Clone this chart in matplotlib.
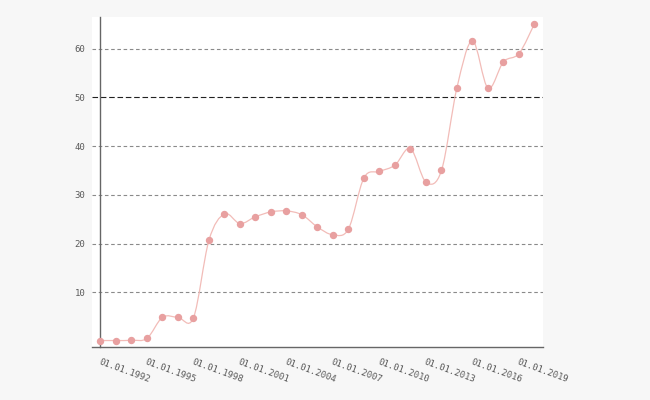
import numpy as np
import pandas as pd
import matplotlib
matplotlib.use("Agg")
import matplotlib.pyplot as plt
import matplotlib.dates as mdates
from matplotlib.path import Path
from matplotlib.patches import PathPatch


years = list(range(1992, 2021))
values = [0.1, 0.1, 0.15, 0.55, 4.86, 4.86, 4.78, 20.7, 26.1, 24.1,
          25.5, 26.5, 26.7, 25.9, 23.4, 21.8, 23.0, 33.5, 34.8, 36.1,
          39.5, 32.6, 35.0, 52.0, 61.6, 51.9, 57.3, 59.0, 65.1]
tick_years = list(range(1992, 2020, 3))
y_ticks = [10, 20, 30, 40, 50, 60]

dates = pd.to_datetime([f"{y}-01-01" for y in years])
tick_dates = pd.to_datetime([f"{y}-01-01" for y in tick_years])

BG = "#f7f7f7"
TEXT = "#5a5a5a"
FONT = "DejaVu Sans Mono"


def cardinal_path(x, y):
    # smooth line through the points, as Bezier segments (catmull-rom)
    pts = np.column_stack([x, y])
    ext = np.vstack([pts[0], pts, pts[-1]])
    verts = [pts[0]]
    codes = [Path.MOVETO]
    for i in range(1, len(ext) - 2):
        p0, p1, p2, p3 = ext[i - 1], ext[i], ext[i + 1], ext[i + 2]
        verts += [p1 + (p2 - p0) / 6, p2 - (p3 - p1) / 6, p2]
        codes += [Path.CURVE4] * 3
    return Path(verts, codes)


fig = plt.figure(figsize=(6.5, 4), dpi=100, facecolor=BG)
ax = fig.add_axes([0.1415, 0.1325, 0.6938, 0.825])
ax.set_facecolor("white")

xnum = mdates.date2num(dates)
ax.add_patch(PathPatch(cardinal_path(xnum, values), facecolor="none",
                       edgecolor="#f2bcb8", linewidth=0.9, zorder=3))
ax.plot(dates, values, linestyle="none", marker="o", markersize=4.3,
        color="#e8a0a0", zorder=4)

pad = 8.5 / 15.5 * 365
ax.set_xlim(xnum[0] - pad, xnum[-1] + pad)
ax.set_ylim(-1.23, 66.5)

for t in y_ticks:
    if t == 50:
        ax.axhline(t, color="#222222", linewidth=0.8, dashes=(5, 2.5), zorder=1)
    else:
        ax.axhline(t, color="#8a8a8a", linewidth=0.8, dashes=(3.2, 2.4), zorder=1)

for s in ["top", "right"]:
    ax.spines[s].set_visible(False)
ax.spines["left"].set_position(("data", xnum[0]))
ax.spines["left"].set_color("#666666")
ax.spines["left"].set_linewidth(1.0)
ax.spines["bottom"].set_color("#666666")
ax.spines["bottom"].set_linewidth(1.0)

ax.set_yticks(y_ticks)
ax.set_yticklabels([str(t) for t in y_ticks], fontsize=6.5, family=FONT, color=TEXT)
ax.tick_params(axis="y", length=0, pad=11)

ax.set_xticks(tick_dates)
ax.set_xticklabels([d.strftime("%d.%m.%Y") for d in tick_dates], fontsize=6.5,
                   family=FONT, color=TEXT, rotation=-20, ha="left", va="top",
                   rotation_mode="anchor")
ax.tick_params(axis="x", length=0, pad=7.5)

fig.savefig("out.png", dpi=100, facecolor=BG)
